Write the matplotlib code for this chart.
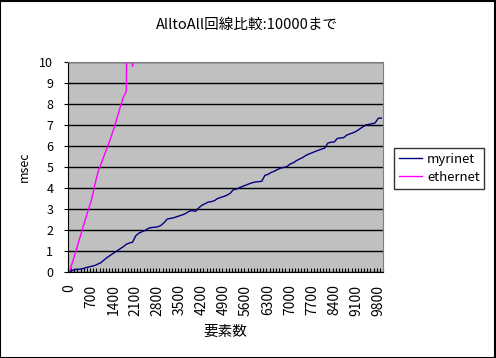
import numpy as np
import matplotlib.pyplot as plt
from matplotlib.patches import Rectangle

plt.rcParams['font.family'] = ['Noto Sans CJK JP', 'DejaVu Sans']

title = 'AlltoAll回線比較:10000まで'
# element counts (category axis, step 100)
elements = list(range(0, 10000, 100))
tick_every = 7

myrinet = [0.02, 0.08, 0.12, 0.13, 0.15, 0.20, 0.24, 0.27, 0.31, 0.38,
           0.45, 0.58, 0.70, 0.80, 0.90, 1.00, 1.10, 1.20, 1.32, 1.38,
           1.42, 1.72, 1.85, 1.92, 1.98, 2.08, 2.12, 2.13, 2.15, 2.22,
           2.35, 2.52, 2.55, 2.58, 2.63, 2.68, 2.73, 2.80, 2.90, 2.92,
           2.89, 3.05, 3.18, 3.25, 3.33, 3.35, 3.40, 3.50, 3.55, 3.60,
           3.66, 3.75, 3.92, 3.95, 4.02, 4.08, 4.14, 4.20, 4.25, 4.29,
           4.30, 4.32, 4.60, 4.65, 4.74, 4.80, 4.88, 4.95, 4.98, 5.02,
           5.14, 5.20, 5.30, 5.38, 5.45, 5.55, 5.62, 5.68, 5.74, 5.80,
           5.85, 5.90, 6.14, 6.18, 6.19, 6.36, 6.38, 6.40, 6.52, 6.58,
           6.63, 6.70, 6.80, 6.90, 7.00, 7.03, 7.06, 7.10, 7.32, 7.33]

# ethernet leaves the chart after ~2000 elements
ethernet = [0.05, 0.5, 1.0, 1.5, 2.0, 2.5, 3.0, 3.45, 4.15, 4.75,
            5.15, 5.55, 5.95, 6.35, 6.8, 7.3, 7.8, 8.3, 8.6, 25.0,
            9.8, 25.0, 26.0, 27.0]

fig = plt.figure(figsize=(4.96, 3.58), dpi=100)
ax = fig.add_axes([68/496, 1 - 272/358, 315/496, 210/358])
ax.set_facecolor('#C0C0C0')

x_my = np.arange(len(myrinet))
x_eth = np.arange(len(ethernet))
ax.plot(x_my, myrinet, color='#000080', lw=1, label='myrinet')
ax.plot(x_eth, ethernet, color='#FF00FF', lw=1, label='ethernet')

ax.set_xlim(-0.5, len(elements) - 0.5)
ax.set_ylim(0, 10)
ax.set_yticks(range(0, 11))
ax.yaxis.grid(True, color='black', lw=1)
ax.set_axisbelow(True)

pos = np.arange(0, len(elements), tick_every)
ax.set_xticks(pos)
ax.set_xticklabels([str(elements[i]) for i in pos], rotation=90, fontsize=10)
ax.set_xticks(np.arange(len(elements) + 1) - 0.5, minor=True)
ax.tick_params(axis='x', which='major', length=0, pad=9)
ax.tick_params(axis='x', which='minor', direction='in', length=3, width=0.8)
ax.tick_params(axis='y', length=3, labelsize=9, pad=7.5)

for s in ['top', 'right']:
    ax.spines[s].set_color('#808080')
for s in ['left', 'bottom']:
    ax.spines[s].set_color('black')

ax.set_ylabel('msec', fontsize=9, labelpad=6)
ax.set_xlabel('要素数', fontsize=10.5, labelpad=7)
fig.text(0.497, 1 - 25/358, title, ha='center', va='center', fontsize=10.5)

leg = fig.legend(loc='upper left', bbox_to_anchor=(394/496, 1 - 148/358),
                 fontsize=9.5, frameon=True, fancybox=False, borderaxespad=0,
                 handlelength=1.75, handletextpad=0.4, borderpad=0.35,
                 labelspacing=0.4)
leg.get_frame().set_edgecolor('black')
leg.get_frame().set_linewidth(1)

fig.patches.append(Rectangle((0.001, 0.001), 0.997, 0.996, transform=fig.transFigure,
                             fill=False, edgecolor='black', lw=1.5))

fig.savefig('out.png', dpi=100)
